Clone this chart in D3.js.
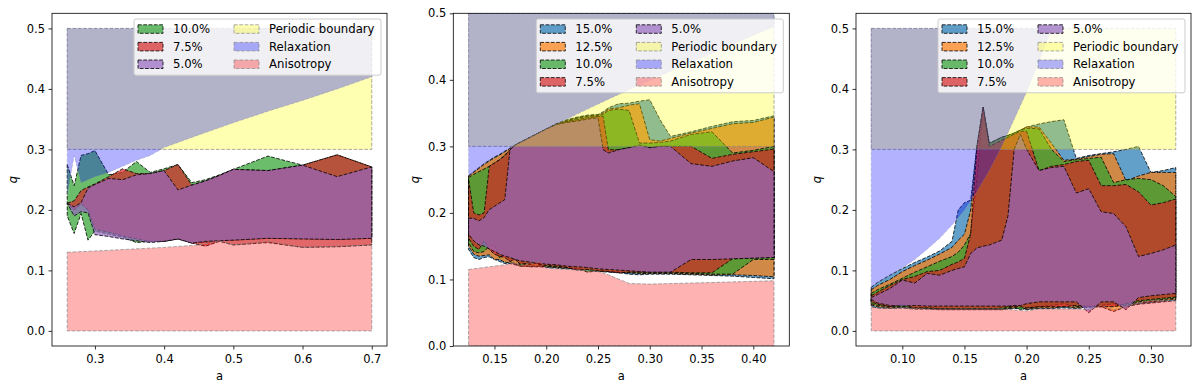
<!DOCTYPE html>
<html><head><meta charset="utf-8">
<script src="https://cdn.jsdelivr.net/npm/d3@7"></script>
<style>body{margin:0;background:#fff}svg{display:block}text{font-family:"DejaVu Sans",sans-serif;fill:#000}</style>
</head><body><svg id="c" width="1200" height="385"></svg>
<script>
// ---------- data: panel 1 ----------
const a1 = [0.26,0.27,0.28,0.29,0.30,0.32,0.34,0.36,0.38,0.40,0.42,0.44,0.46,0.48,0.50,0.55,0.60,0.65,0.70];
const hi1_10 = [0.275,0.24,0.29,0.293,0.298,0.258,0.262,0.28,0.262,0.268,0.275,0.245,0.25,0.258,0.267,0.289,0.274,0.291,0.271];
const lo1_10 = [0.19,0.161,0.194,0.15,0.165,0.16,0.155,0.146,0.148,0.148,0.152,0.146,0.146,0.149,0.15,0.153,0.152,0.151,0.153];
const hi1_75 = [0.211,0.215,0.232,0.238,0.243,0.255,0.268,0.26,0.26,0.265,0.275,0.241,0.248,0.257,0.267,0.265,0.274,0.291,0.271];
const lo1_75 = [0.211,0.2,0.21,0.2,0.168,0.163,0.157,0.152,0.148,0.148,0.152,0.145,0.14,0.148,0.142,0.146,0.138,0.139,0.142];
const hi1_5  = [0.211,0.205,0.212,0.236,0.242,0.252,0.25,0.258,0.26,0.265,0.233,0.241,0.248,0.257,0.267,0.265,0.274,0.255,0.271];
const lo1_5  = [0.211,0.19,0.197,0.195,0.159,0.156,0.152,0.149,0.146,0.148,0.152,0.145,0.148,0.149,0.15,0.153,0.152,0.151,0.153];
const relax1A = [0.26,0.27,0.28,0.29,0.30,0.32,0.34,0.36,0.38,0.40,0.45,0.50,0.55,0.60,0.65,0.70];
const relax1Q = [0.225,0.29,0.245,0.25,0.255,0.262,0.272,0.282,0.29,0.303,0.324,0.344,0.363,0.381,0.40,0.42];
const anis1A = [0.26,0.30,0.35,0.40,0.45,0.48,0.50,0.55,0.60,0.65,0.70];
const anis1Q = [0.13,0.132,0.135,0.138,0.142,0.149,0.142,0.148,0.138,0.14,0.142];
const xTicks1 = [0.3,0.4,0.5,0.6,0.7];

// ---------- data: panel 2 ----------
const a2 = [0.125,0.13,0.135,0.14,0.145,0.15,0.155,0.16,0.165,0.17,0.175,0.18,0.185,0.19,0.195,0.20,0.21,0.22,0.23,0.24,0.25,0.255,0.26,0.27,0.28,0.29,0.30,0.31,0.32,0.34,0.36,0.38,0.40,0.42];
const hi2_15  = [0.256,0.262,0.268,0.274,0.279,0.284,0.288,0.293,0.297,0.302,0.306,0.31,0.314,0.318,0.322,0.326,0.334,0.34,0.344,0.347,0.348,0.352,0.358,0.364,0.365,0.368,0.37,0.34,0.315,0.322,0.33,0.337,0.339,0.346];
const hi2_125 = [0.255,0.261,0.267,0.273,0.278,0.283,0.287,0.292,0.297,0.302,0.306,0.31,0.314,0.318,0.322,0.326,0.334,0.339,0.343,0.346,0.347,0.35,0.356,0.358,0.362,0.364,0.31,0.308,0.312,0.32,0.327,0.334,0.336,0.344];
const hi2_10  = [0.253,0.258,0.262,0.266,0.27,0.275,0.28,0.287,0.295,0.302,0.306,0.31,0.314,0.318,0.322,0.326,0.333,0.338,0.342,0.345,0.346,0.348,0.354,0.356,0.354,0.305,0.305,0.306,0.308,0.318,0.322,0.29,0.294,0.30];
const hi2_75  = [0.25,0.2,0.197,0.2,0.27,0.275,0.28,0.286,0.295,0.302,0.306,0.31,0.314,0.318,0.322,0.326,0.333,0.337,0.34,0.343,0.345,0.345,0.295,0.295,0.298,0.30,0.298,0.30,0.30,0.30,0.282,0.288,0.292,0.296];
const hi2_5   = [0.192,0.192,0.188,0.193,0.205,0.21,0.215,0.22,0.295,0.302,0.306,0.31,0.314,0.318,0.322,0.326,0.333,0.336,0.338,0.341,0.343,0.295,0.29,0.295,0.298,0.302,0.298,0.30,0.30,0.274,0.27,0.278,0.283,0.262];
const lo2_5   = [0.168,0.158,0.152,0.15,0.146,0.142,0.138,0.135,0.133,0.13,0.128,0.127,0.126,0.125,0.124,0.123,0.122,0.12,0.119,0.118,0.116,0.1155,0.115,0.114,0.113,0.112,0.111,0.111,0.111,0.13,0.13,0.131,0.132,0.133];
const lo2_75  = [0.162,0.15,0.145,0.158,0.145,0.138,0.135,0.133,0.127,0.13,0.123,0.124,0.123,0.124,0.122,0.121,0.12,0.118,0.114,0.115,0.113,0.1125,0.112,0.11,0.111,0.111,0.111,0.111,0.111,0.11,0.11,0.131,0.132,0.133];
const lo2_10  = [0.155,0.142,0.14,0.142,0.15,0.152,0.132,0.138,0.127,0.132,0.121,0.123,0.123,0.126,0.121,0.12,0.119,0.118,0.116,0.111,0.113,0.1125,0.112,0.111,0.11,0.11,0.11,0.11,0.11,0.109,0.108,0.108,0.13,0.13];
const lo2_125 = [0.15,0.138,0.135,0.136,0.137,0.13,0.13,0.126,0.125,0.124,0.12,0.12,0.12,0.12,0.12,0.119,0.118,0.117,0.116,0.115,0.113,0.1125,0.112,0.111,0.11,0.109,0.109,0.109,0.109,0.108,0.107,0.107,0.106,0.104];
const lo2_15  = [0.145,0.133,0.13,0.133,0.134,0.13,0.127,0.124,0.124,0.122,0.12,0.12,0.119,0.119,0.119,0.118,0.117,0.116,0.115,0.114,0.112,0.1115,0.111,0.11,0.108,0.107,0.108,0.108,0.108,0.107,0.106,0.105,0.103,0.101];
const relax2A = [0.125,0.13,0.14,0.15,0.16,0.17,0.18,0.19,0.20,0.22,0.24,0.26,0.28,0.30,0.32,0.34,0.36,0.38,0.40,0.42];
const relax2Q = [0.256,0.262,0.274,0.284,0.293,0.302,0.31,0.318,0.326,0.341,0.356,0.371,0.385,0.399,0.413,0.426,0.44,0.453,0.467,0.48];
const anis2A = [0.125,0.14,0.16,0.17,0.175,0.185,0.195,0.20,0.22,0.25,0.26,0.28,0.30,0.35,0.42];
const anis2Q = [0.115,0.118,0.122,0.125,0.121,0.124,0.126,0.117,0.115,0.112,0.107,0.094,0.093,0.095,0.098];
const xTicks2 = [0.15,0.20,0.25,0.30,0.35,0.40];

// ---------- data: panel 3 ----------
const a3 = [0.075,0.08,0.09,0.10,0.11,0.12,0.13,0.14,0.145,0.15,0.155,0.16,0.165,0.17,0.175,0.18,0.185,0.19,0.195,0.20,0.21,0.22,0.23,0.24,0.25,0.26,0.27,0.28,0.29,0.30,0.31,0.32];
const hi3_15  = [0.072,0.08,0.092,0.103,0.113,0.122,0.132,0.148,0.2,0.212,0.216,0.305,0.37,0.31,0.315,0.32,0.323,0.327,0.332,0.337,0.342,0.346,0.349,0.285,0.29,0.293,0.296,0.30,0.305,0.262,0.265,0.27];
const hi3_125 = [0.068,0.075,0.085,0.098,0.108,0.117,0.127,0.138,0.15,0.16,0.2,0.305,0.37,0.31,0.315,0.32,0.323,0.327,0.332,0.337,0.337,0.31,0.282,0.284,0.288,0.292,0.293,0.248,0.256,0.262,0.262,0.262];
const hi3_10  = [0.062,0.068,0.077,0.087,0.097,0.106,0.115,0.123,0.13,0.142,0.161,0.25,0.37,0.31,0.315,0.32,0.323,0.327,0.332,0.335,0.334,0.30,0.28,0.283,0.285,0.287,0.245,0.25,0.252,0.25,0.24,0.222];
const hi3_75  = [0.058,0.064,0.075,0.085,0.09,0.098,0.1,0.11,0.114,0.12,0.16,0.3,0.37,0.305,0.31,0.315,0.32,0.325,0.33,0.33,0.265,0.272,0.275,0.28,0.282,0.24,0.24,0.242,0.23,0.208,0.212,0.218];
const hi3_5   = [0.055,0.06,0.07,0.084,0.079,0.095,0.092,0.1,0.103,0.106,0.128,0.137,0.14,0.142,0.146,0.15,0.19,0.3,0.325,0.30,0.265,0.27,0.272,0.228,0.235,0.197,0.194,0.172,0.123,0.128,0.134,0.142];
const lo3_5   = [0.052,0.046,0.042,0.041,0.042,0.041,0.041,0.041,0.041,0.041,0.041,0.041,0.041,0.041,0.041,0.041,0.041,0.042,0.042,0.045,0.048,0.048,0.048,0.048,0.03,0.048,0.048,0.035,0.055,0.058,0.06,0.062];
const lo3_75  = [0.048,0.044,0.04,0.043,0.038,0.038,0.037,0.037,0.037,0.037,0.037,0.037,0.037,0.037,0.037,0.038,0.04,0.04,0.04,0.038,0.04,0.04,0.04,0.042,0.04,0.04,0.04,0.045,0.05,0.052,0.054,0.056];
const lo3_10  = [0.045,0.042,0.04,0.04,0.038,0.037,0.037,0.036,0.036,0.036,0.036,0.036,0.036,0.036,0.036,0.036,0.038,0.04,0.035,0.038,0.04,0.042,0.045,0.04,0.042,0.042,0.045,0.042,0.048,0.05,0.052,0.054];
const lo3_125 = [0.043,0.04,0.038,0.039,0.037,0.037,0.036,0.036,0.036,0.036,0.036,0.036,0.036,0.036,0.036,0.036,0.037,0.038,0.038,0.036,0.038,0.038,0.04,0.038,0.04,0.04,0.032,0.04,0.046,0.048,0.05,0.052];
const lo3_15  = [0.04,0.038,0.037,0.038,0.036,0.036,0.035,0.035,0.035,0.035,0.035,0.035,0.035,0.035,0.035,0.035,0.036,0.037,0.037,0.035,0.037,0.037,0.038,0.037,0.039,0.04,0.04,0.04,0.044,0.046,0.048,0.05];
const relax3A = [0.075,0.08,0.09,0.10,0.11,0.12,0.13,0.14,0.15,0.16,0.17,0.18,0.19,0.20,0.21,0.22];
const relax3Q = [0.072,0.08,0.092,0.104,0.118,0.135,0.153,0.175,0.2,0.23,0.265,0.305,0.35,0.395,0.445,0.5];
const anis3A = [0.075,0.08,0.09,0.10,0.12,0.14,0.16,0.18,0.20,0.21,0.22,0.24,0.25,0.26,0.27,0.28,0.29,0.30,0.32];
const anis3Q = [0.04,0.038,0.037,0.038,0.036,0.036,0.036,0.036,0.033,0.036,0.036,0.036,0.035,0.042,0.035,0.04,0.046,0.05,0.05];
const xTicks3 = [0.10,0.15,0.20,0.25,0.30];

const yTicks = [0.0,0.1,0.2,0.3,0.4,0.5];
const periodicQ = [0.3, 0.5];
const seriesColors = {"15.0%":"#1f77b4","12.5%":"#ff7f0e","10.0%":"#2ca02c","7.5%":"#d62728","5.0%":"#9467bd"};
const regionColors = {"Periodic boundary":"#ffff00","Relaxation":"#0000ff","Anisotropy":"#ff0000"};

const panels = [
  {x0:52, x1:387, xDom:[0.238,0.722], yDom:[-0.025,0.525], xTicks:xTicks1, fmt:".1f", qx:17,
   grid:a1, series:[["10.0%",lo1_10,hi1_10],["7.5%",lo1_75,hi1_75],["5.0%",lo1_5,hi1_5]],
   per:[a1[0],a1[a1.length-1]], relax:[relax1A,relax1Q], anis:[anis1A,anis1Q]},
  {x0:453.3, x1:789.3, xDom:[0.11025,0.43475], yDom:[0,0.5], xTicks:xTicks2, fmt:".2f", qx:418.5,
   grid:a2, series:[["15.0%",lo2_15,hi2_15],["12.5%",lo2_125,hi2_125],["10.0%",lo2_10,hi2_10],["7.5%",lo2_75,hi2_75],["5.0%",lo2_5,hi2_5]],
   per:[a2[0],a2[a2.length-1]], relax:[relax2A,relax2Q], anis:[anis2A,anis2Q]},
  {x0:856, x1:1191, xDom:[0.06275,0.33225], yDom:[-0.025,0.525], xTicks:xTicks3, fmt:".2f", qx:820.5,
   grid:a3, series:[["15.0%",lo3_15,hi3_15],["12.5%",lo3_125,hi3_125],["10.0%",lo3_10,hi3_10],["7.5%",lo3_75,hi3_75],["5.0%",lo3_5,hi3_5]],
   per:[a3[0],a3[a3.length-1]], relax:[relax3A,relax3Q], anis:[anis3A,anis3Q]}
];

const svg = d3.select("#c");
const Y0 = 13.3, Y1 = 346;
const DASH = "3.7,1.6";

panels.forEach((p, pi) => {
  const x = d3.scaleLinear().domain(p.xDom).range([p.x0, p.x1]);
  const y = d3.scaleLinear().domain(p.yDom).range([Y1, Y0]);
  const g = svg.append("g");
  const cid = "clip" + pi;
  svg.append("clipPath").attr("id", cid).append("rect")
    .attr("x", p.x0).attr("y", Y0).attr("width", p.x1 - p.x0).attr("height", Y1 - Y0);
  const plot = g.append("g").attr("clip-path", `url(#${cid})`);

  p.series.forEach(([name, lo, hi]) => {
    const pts = p.grid.map((a, i) => [a, lo[i], hi[i]]);
    const area = d3.area().x(d => x(d[0])).y0(d => y(d[1])).y1(d => y(d[2]));
    plot.append("path").attr("d", area(pts))
      .attr("fill", seriesColors[name]).attr("fill-opacity", 0.7)
      .attr("stroke", "#000").attr("stroke-opacity", 0.8).attr("stroke-width", 1)
      .attr("stroke-dasharray", DASH);
  });

  const perPts = p.per.map(a => [a, periodicQ[0], periodicQ[1]]);
  plot.append("path")
    .attr("d", d3.area().x(d => x(d[0])).y0(d => y(d[1])).y1(d => y(d[2]))(perPts))
    .attr("fill", regionColors["Periodic boundary"]).attr("fill-opacity", 0.3)
    .attr("stroke", "#888").attr("stroke-opacity", 0.7).attr("stroke-width", 1).attr("stroke-dasharray", DASH);

  const rPts = p.relax[0].map((a, i) => [a, p.relax[1][i]]);
  plot.append("path")
    .attr("d", d3.area().x(d => x(d[0])).y0(d => y(d[1])).y1(() => y(0.5))(rPts))
    .attr("fill", regionColors["Relaxation"]).attr("fill-opacity", 0.3)
    .attr("stroke", "#8888aa").attr("stroke-opacity", 0.35).attr("stroke-width", 1).attr("stroke-dasharray", DASH);

  const aPts = p.anis[0].map((a, i) => [a, p.anis[1][i]]);
  plot.append("path")
    .attr("d", d3.area().x(d => x(d[0])).y0(() => y(0)).y1(d => y(d[1]))(aPts))
    .attr("fill", regionColors["Anisotropy"]).attr("fill-opacity", 0.3)
    .attr("stroke", "#888").attr("stroke-opacity", 0.7).attr("stroke-width", 1).attr("stroke-dasharray", DASH);

  const ax = g.append("g").attr("transform", `translate(0,${Y1})`)
    .call(d3.axisBottom(x).tickValues(p.xTicks).tickFormat(d3.format(p.fmt)).tickSize(3.5).tickPadding(5));
  const ay = g.append("g").attr("transform", `translate(${p.x0},0)`)
    .call(d3.axisLeft(y).tickValues(yTicks).tickFormat(d3.format(".1f")).tickSize(3.5).tickPadding(3.5));
  [ax, ay].forEach(s => {
    s.select(".domain").remove();
    s.selectAll("line").attr("stroke", "#000").attr("stroke-width", 0.8);
    s.selectAll("text").attr("font-size", "11.5px").attr("font-family", "DejaVu Sans").attr("fill", "#000");
  });
  g.append("rect").attr("x", p.x0).attr("y", Y0).attr("width", p.x1 - p.x0).attr("height", Y1 - Y0)
    .attr("fill", "none").attr("stroke", "#000").attr("stroke-width", 0.8);

  g.append("text").attr("x", (p.x0 + p.x1) / 2).attr("y", 380).attr("text-anchor", "middle")
    .attr("font-size", "11.5px").text("a");
  g.append("text").attr("transform", `translate(${p.qx},${(Y0 + Y1) / 2}) rotate(-90)`)
    .attr("text-anchor", "middle").attr("font-size", "11.5px").attr("font-style", "italic").text("q");

  const entries = p.series.map(s => ({name: s[0], color: seriesColors[s[0]], op: 0.7, edge: "#000", eop: 0.8}))
    .concat(Object.keys(regionColors).map(k => ({name: k, color: regionColors[k], op: 0.3, edge: "#888", eop: 0.7})));
  const nRows = Math.ceil(entries.length / 2);
  const fw = 247, fx = p.x1 - 6 - fw, fy = 19, rowH = 17.6;
  const lg = g.append("g");
  lg.append("rect").attr("x", fx).attr("y", fy).attr("width", fw).attr("height", nRows * rowH + 3.4)
    .attr("rx", 2).attr("fill", "#fff").attr("fill-opacity", 0.8).attr("stroke", "#cccccc").attr("stroke-width", 1);
  entries.forEach((e, i) => {
    const col = Math.floor(i / nRows), row = i % nRows;
    const cy = fy + 10 + row * rowH;
    lg.append("rect").attr("x", fx + 4 + col * 96).attr("y", cy - 4.2).attr("width", 25).attr("height", 8.5)
      .attr("fill", e.color).attr("fill-opacity", e.op)
      .attr("stroke", e.edge).attr("stroke-opacity", e.eop).attr("stroke-width", 1).attr("stroke-dasharray", DASH);
    lg.append("text").attr("x", fx + 39 + col * 96).attr("y", cy + 4.2).attr("font-size", "11.7px").text(e.name);
  });
});
</script></body></html>
